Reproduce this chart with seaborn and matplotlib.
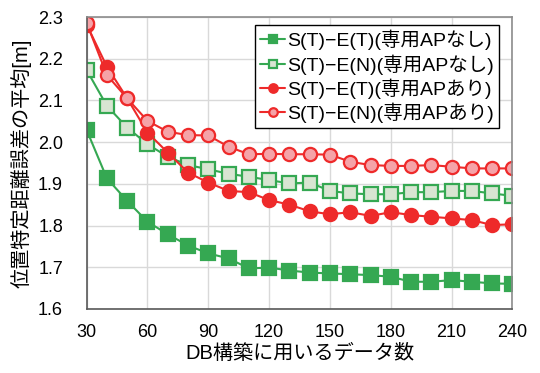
import numpy as np
import pandas as pd
import matplotlib
matplotlib.use("Agg")
import matplotlib.pyplot as plt
import seaborn as sns

# data counts used to build the DB
counts = [30, 40, 50, 60, 70, 80, 90, 100, 110, 120, 130,
          140, 150, 160, 170, 180, 190, 200, 210, 220, 230, 240]

tt_without = [2.029, 1.913, 1.859, 1.809, 1.779, 1.752, 1.733, 1.721, 1.697, 1.699, 1.692,
              1.687, 1.685, 1.683, 1.681, 1.677, 1.665, 1.665, 1.669, 1.665, 1.661, 1.660]
tn_without = [2.173, 2.087, 2.035, 1.995, 1.965, 1.945, 1.935, 1.924, 1.917, 1.909, 1.901,
              1.903, 1.883, 1.877, 1.875, 1.875, 1.880, 1.880, 1.883, 1.883, 1.877, 1.871]
tt_with = [2.282, 2.181, 2.105, 2.023, 1.975, 1.927, 1.903, 1.883, 1.880, 1.861, 1.850,
           1.834, 1.827, 1.832, 1.823, 1.832, 1.825, 1.821, 1.817, 1.813, 1.801, 1.803]
tn_with = [2.286, 2.161, 2.105, 2.051, 2.025, 2.017, 2.016, 1.989, 1.971, 1.972, 1.971,
           1.971, 1.970, 1.953, 1.945, 1.943, 1.943, 1.945, 1.941, 1.937, 1.937, 1.937]

labels = ["S(T)\u2212E(T)(専用APなし)", "S(T)\u2212E(N)(専用APなし)",
          "S(T)\u2212E(T)(専用APあり)", "S(T)\u2212E(N)(専用APあり)"]

sns.set_style("white")
plt.rcParams['font.family'] = ['Liberation Sans', 'Noto Sans CJK JP', 'DejaVu Sans']
plt.rcParams['text.color'] = 'black'
plt.rcParams['axes.labelcolor'] = 'black'
plt.rcParams['xtick.color'] = 'black'
plt.rcParams['ytick.color'] = 'black'

fig = plt.figure(figsize=(5.4, 3.73), dpi=100)
ax = fig.add_axes([0.1605, 0.172, 0.7885, 0.782])

green = "#35a852"
red = "#ee2a2a"
styles = [
    (tt_without, green, green, "s"),
    (tn_without, green, "#d8e5d2", "s"),
    (tt_with, red, red, "o"),
    (tn_with, red, "#f5a3a8", "o"),
]

for (vals, edge, face, mk), lab in zip(styles, labels):
    df = pd.DataFrame({"count": counts, "err": vals})
    sns.lineplot(data=df, x="count", y="err", ax=ax, color=edge, marker=mk,
                 markersize=9.5, markerfacecolor=face, markeredgecolor=edge,
                 markeredgewidth=1.6, linewidth=1.5, label=lab)

ax.set_xlim(30, 240)
ax.set_ylim(1.6, 2.3)
ax.set_xticks(np.arange(30, 241, 30))
ax.set_yticks(np.arange(1.6, 2.31, 0.1))
ax.yaxis.set_major_formatter(matplotlib.ticker.FormatStrFormatter("%.1f"))
ax.tick_params(labelsize=13, length=0)
ax.tick_params(axis="y", pad=17)
ax.tick_params(axis="x", pad=11)
ax.grid(True, color="#d9d9d9", linewidth=1)
ax.set_axisbelow(True)
for s in ["top", "right"]:
    ax.spines[s].set_color("#8c8c8c")
for s in ["left", "bottom"]:
    ax.spines[s].set_color("#595959")
for s in ax.spines.values():
    s.set_linewidth(1.2)

ax.set_xlabel("DB構築に用いるデータ数", fontsize=14.5, labelpad=2)
ax.set_ylabel("位置特定距離誤差の平均[m]", fontsize=14.5, labelpad=5)

leg = ax.legend(loc="upper right", bbox_to_anchor=(0.968, 0.973), fontsize=14,
                frameon=True, fancybox=False, edgecolor="black", framealpha=1,
                handlelength=1.3, handletextpad=0.1, borderpad=0.25,
                labelspacing=0.2, borderaxespad=0, markerscale=0.65)
leg.get_frame().set_linewidth(1.0)

fig.savefig("out.png", dpi=100)
